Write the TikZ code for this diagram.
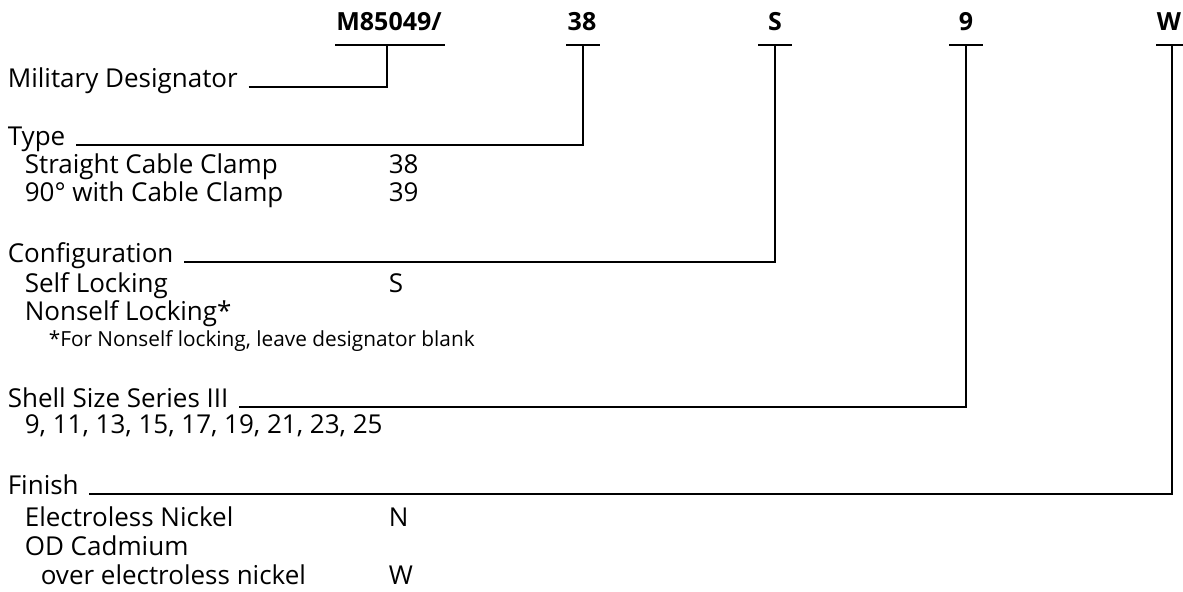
\documentclass[tikz,border=0pt]{standalone}
\usepackage{fontspec}
\setmainfont{Open Sans}
\begin{document}
\begin{tikzpicture}[
    x=0.5pt, y=-0.5pt,
    line width=0.8pt,
    code/.style={font=\fontsize{12.5}{14}\selectfont\bfseries, inner sep=0pt},
    field/.style={anchor=base west, inner xsep=5pt, inner ysep=0pt, font=\fontsize{13}{15}\selectfont},
    item/.style={anchor=base west, inner sep=0pt, font=\fontsize{13}{15}\selectfont},
    note/.style={anchor=base west, inner sep=0pt, font=\fontsize{10.4}{12}\selectfont}
]
  \useasboundingbox (0,0) rectangle (1183,591);

  % part number
  \node[code, anchor=base] (cM) at (389,30)  {M85049/};
  \node[code, anchor=base] (cT) at (582,30)  {38};
  \node[code, anchor=base] (cS) at (775,30)  {S};
  \node[code, anchor=base] (cN) at (966,30)  {9};
  \node[code, anchor=base] (cW) at (1169,30) {W};

  \coordinate (tM) at (387,45);
  \coordinate (tT) at (583,45);
  \coordinate (tS) at (775,45);
  \coordinate (tN) at (966,45);
  \coordinate (tW) at (1172,45);

  \draw (335,45) -- (445,45);
  \draw (566,45) -- (600,45);
  \foreach \x in {775,966} \draw (\x-17,45) -- (\x+17,45);
  \draw (1156,45) -- (1183,45);

  % fields
  \node[field] (fM) at (-3,87)  {Military Designator};
  \node[field] (fT) at (-3,145) {Type};
  \node[field] (fS) at (-3,262) {Configuration};
  \node[field] (fN) at (-3,407) {Shell Size Series III};
  \node[field] (fW) at (-3,494) {Finish};

  % options
  \node[item] at (24,173)  {Straight Cable Clamp};
  \node[item] at (388,173) {38};
  \node[item] at (24,201)  {90° with Cable Clamp};
  \node[item] at (388,201) {39};
  \node[item] at (24,292)  {Self Locking};
  \node[item] at (388,292) {S};
  \node[item] at (24,320)  {Nonself Locking*};
  \node[note] at (48,346)  {*For Nonself locking, leave designator blank};
  \node[item] at (24,433)  {9, 11, 13, 15, 17, 19, 21, 23, 25};
  \node[item] at (24,526)  {Electroless Nickel};
  \node[item] at (388,526) {N};
  \node[item] at (24,555)  {OD Cadmium};
  \node[item] at (40,584)  {over electroless nickel};
  \node[item] at (388,584) {W};

  % leaders
  \draw (fM.base east) -| (tM);
  \draw (fT.base east) -| (tT);
  \draw (fS.base east) -| (tS);
  \draw (fN.base east) -| (tN);
  \draw (fW.base east) -| (tW);
\end{tikzpicture}
\end{document}
